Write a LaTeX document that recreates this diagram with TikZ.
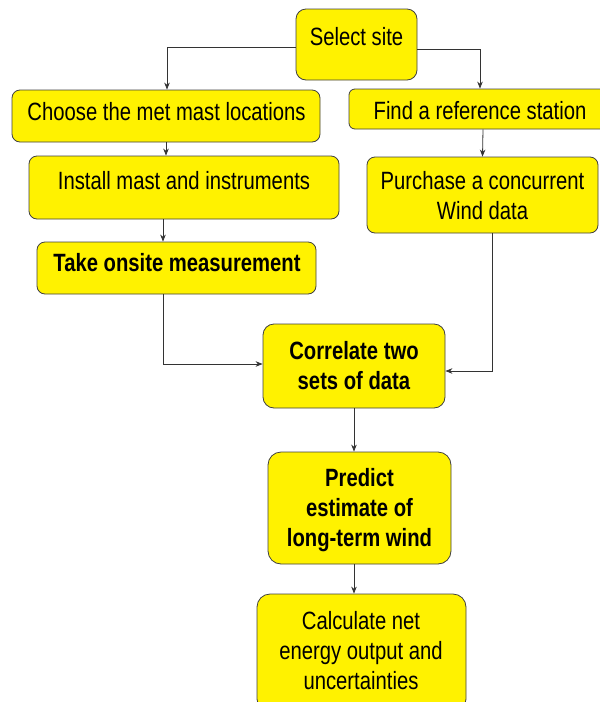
\documentclass[tikz,border=0pt]{standalone}
\usepackage{fontspec}
\setmainfont{Liberation Sans}[FakeStretch=0.81]
\usetikzlibrary{arrows.meta}
\newcommand\sst{\rule[-5.85pt]{0pt}{29.6pt}}
\begin{document}
\begin{tikzpicture}[x=1pt,y=-1pt,
  box/.style={draw=black!75, line width=0.8pt, fill=yellow, rounded corners=8pt, inner sep=0pt, anchor=center},
  lab/.style={inner sep=0pt, align=center, font=\fontsize{25pt}{30pt}\selectfont},
  blab/.style={inner sep=0pt, align=center, font=\fontsize{25pt}{30pt}\selectfont\bfseries},
  arr/.style={draw=black!80, line width=0.8pt, -{Stealth[length=7pt,width=5.5pt]}}]
\clip (0,0) rectangle (600,702);
% boxes
\node[box, minimum width=121pt, minimum height=71pt, rounded corners=10pt] (sel) at (356.5,44.5) {};
\node[box, minimum width=308pt, minimum height=52pt] (choose) at (166,116) {};
\node[box, minimum width=262pt, minimum height=40pt, rounded corners=6pt] (find) at (480,109) {};
\node[box, minimum width=310pt, minimum height=63pt] (install) at (184,187.5) {};
\node[box, minimum width=231pt, minimum height=76pt] (purch) at (482.5,195) {};
\node[box, minimum width=279pt, minimum height=52pt] (take) at (176.5,268) {};
\node[box, minimum width=182pt, minimum height=84pt, rounded corners=11pt] (corr) at (354,366) {};
\node[box, minimum width=183pt, minimum height=112pt, rounded corners=13pt] (pred) at (359.5,508) {};
\node[box, minimum width=209pt, minimum height=118pt, rounded corners=13pt] (calc) at (361.5,653) {};
% labels
\node[lab] (tsel) at (356.5,37) {\sst Select site};
\node[lab] (tchoose) at (166.5,112) {\sst Choose the met mast locations};
\node[lab] (tfind) at (480,110.5) {\sst Find a reference station};
\node[lab] (tinstall) at (184,181) {\sst Install mast and instruments};
\node[lab] (tpurch) at (482.5,195.5) {\sst Purchase a concurrent\\\sst Wind data};
\node[blab] (ttake) at (177,263) {\sst Take onsite measurement};
\node[blab] (tcorr) at (354,365.7) {\sst Correlate two\\\sst sets of data};
\node[blab] (tpred) at (359.5,508) {\sst Predict\\\sst estimate of\\\sst long-term wind};
\node[lab] (tcalc) at (361,650.5) {\sst Calculate net\\\sst energy output and\\\sst uncertainties};
% connectors
\draw[arr] ([yshift=-2.5pt]sel.west) -| ([xshift=1pt]choose.north);
\draw[arr] ([yshift=-4.5pt]sel.east) -| (find.north);
\draw[arr] (choose.south) -- (choose.south |- install.north);
\draw[arr] ([xshift=3pt]find.south) -- (purch.north);
\draw[arr] ([xshift=-21pt]install.south) -- ([xshift=-13.5pt]take.north);
\draw[arr] ([xshift=-13.5pt]take.south) |- ([yshift=2pt]corr.west);
\draw[arr] ([xshift=9.5pt]purch.south) |- ([yshift=-5pt]corr.east);
\draw[arr] (corr.south) -- (corr.south |- pred.north);
\draw[arr] ([xshift=-5.5pt]pred.south) -- ([xshift=-5.5pt]pred.south |- calc.north);
\end{tikzpicture}
\end{document}
